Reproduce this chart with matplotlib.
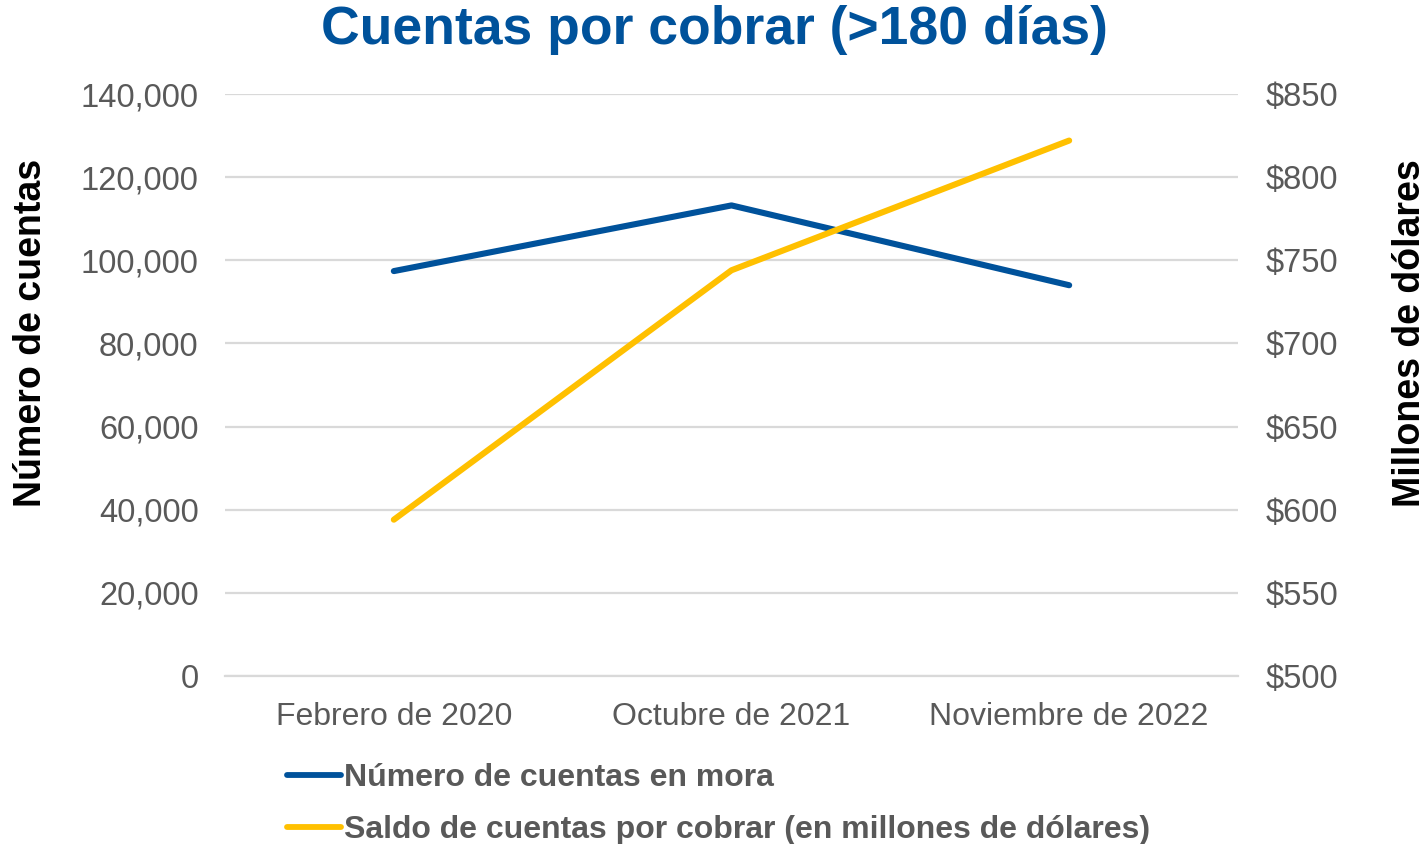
import matplotlib.pyplot as plt
from matplotlib.ticker import FuncFormatter
from matplotlib.lines import Line2D

plt.rcParams['font.family'] = ['Liberation Sans', 'DejaVu Sans']

fechas = ['Febrero de 2020', 'Octubre de 2021', 'Noviembre de 2022']
cuentas_mora = [97400, 113200, 94000]
saldo_millones = [594, 744, 822]
series = ['Número de cuentas en mora', 'Saldo de cuentas por cobrar (en millones de dólares)']

azul = '#00529B'
amarillo = '#FFC000'
gris = '#595959'

W, H = 1427, 844
fig = plt.figure(figsize=(W / 100, H / 100), dpi=100, facecolor='white')
ax = fig.add_axes([225 / W, 1 - 676 / H, (1238 - 225) / W, (676 - 94) / H])
ax2 = ax.twinx()

x = range(len(fechas))
ax.plot(x, cuentas_mora, color=azul, lw=4.4, solid_capstyle='round', zorder=3)
ax2.plot(x, saldo_millones, color=amarillo, lw=4.4, solid_capstyle='round', zorder=3)

ax.set_xlim(-0.5, 2.5)
ax.set_ylim(0, 140000)
ax.set_yticks(range(0, 140001, 20000))
ax.yaxis.set_major_formatter(FuncFormatter(lambda v, p: f'{int(v):,}'))
ax2.set_ylim(500, 850)
ax2.set_yticks(range(500, 851, 50))
ax2.yaxis.set_major_formatter(FuncFormatter(lambda v, p: f'${int(v)}'))

ax.set_xticks(list(x))
ax.set_xticklabels(fechas)
ax.grid(axis='y', color='#d9d9d9', lw=1.6)
ax.set_axisbelow(True)

for a in (ax, ax2):
    for s in a.spines.values():
        s.set_visible(False)
    a.tick_params(length=0, labelsize=23.5, labelcolor=gris)
ax.tick_params(axis='y', pad=19)
ax2.tick_params(axis='y', pad=20)
ax.tick_params(axis='x', pad=19, labelsize=23)
ax.spines['bottom'].set_visible(True)
ax.spines['bottom'].set_color('#d9d9d9')
ax.spines['bottom'].set_linewidth(1.6)

fig.text(31 / W, 1 - 333 / H, 'Número de cuentas', fontsize=27, fontweight='bold',
         color='black', rotation=90, ha='center', va='center')
fig.text(1410 / W, 1 - 333 / H, 'Millones de dólares', fontsize=27, fontweight='bold',
         color='black', rotation=90, ha='center', va='center')

fig.text(0.5 * (323 + 1105) / W, 1 - 30 / H, 'Cuentas por cobrar (>180 días)',
         fontsize=38.5, fontweight='bold', color=azul, ha='center', va='center')

# leyenda
for color, nombre, yy in zip([azul, amarillo], series, [775, 827]):
    fig.add_artist(Line2D([287 / W, 341 / W], [1 - yy / H, 1 - yy / H], color=color,
                          lw=4.2, solid_capstyle='round', transform=fig.transFigure))
    fig.text(344 / W, 1 - (yy + 3) / H, nombre, fontsize=23, fontweight='bold', color=gris,
             ha='left', va='center')

fig.savefig('out.png', dpi=100, facecolor='white')
